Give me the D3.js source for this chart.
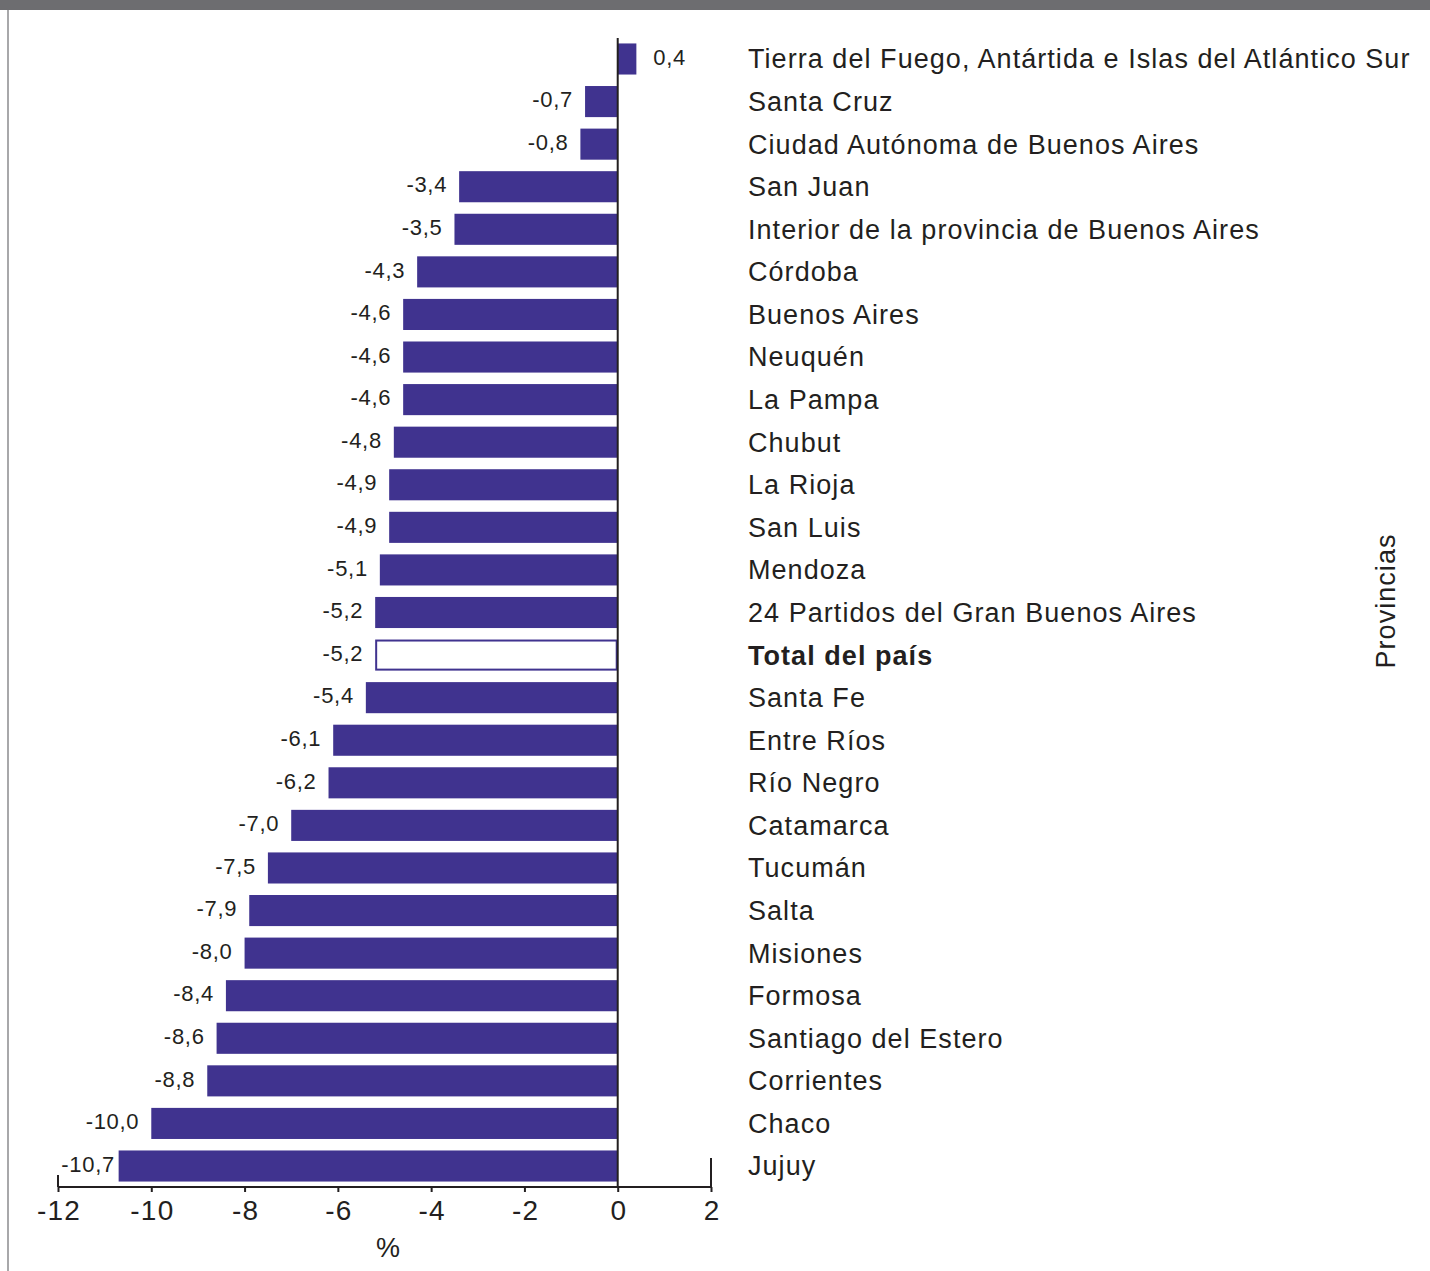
<!DOCTYPE html>
<html><head><meta charset="utf-8">
<script src="https://cdn.jsdelivr.net/npm/d3@7"></script>
<style>
html,body{margin:0;padding:0;background:#fff;}
svg{display:block;}
text{font-family:"Liberation Sans",Arial,sans-serif;fill:#231f20;}
</style></head>
<body>
<svg id="chart" width="1430" height="1271"></svg>
<script>
const categories = [
  "Tierra del Fuego, Antártida e Islas del Atlántico Sur","Santa Cruz","Ciudad Autónoma de Buenos Aires",
  "San Juan","Interior de la provincia de Buenos Aires","Córdoba","Buenos Aires","Neuquén","La Pampa",
  "Chubut","La Rioja","San Luis","Mendoza","24 Partidos del Gran Buenos Aires","Total del país",
  "Santa Fe","Entre Ríos","Río Negro","Catamarca","Tucumán","Salta","Misiones","Formosa",
  "Santiago del Estero","Corrientes","Chaco","Jujuy"
];
const values = [0.4,-0.7,-0.8,-3.4,-3.5,-4.3,-4.6,-4.6,-4.6,-4.8,-4.9,-4.9,-5.1,-5.2,-5.2,-5.4,-6.1,-6.2,-7.0,-7.5,-7.9,-8.0,-8.4,-8.6,-8.8,-10.0,-10.7];
const highlight = ["Total del país"];
const xTicks = [-12,-10,-8,-6,-4,-2,0,2];
const xTitle = "%";
const yTitle = "Provincias";

const data = categories.map((c,i)=>({c, v: values[i]}));
const svg = d3.select("#chart");
const barColor = "#40338f";

// frame
svg.append("rect").attr("x",0).attr("y",0).attr("width",1430).attr("height",10).attr("fill","#6d6d70");
svg.append("line").attr("x1",8).attr("x2",8).attr("y1",10).attr("y2",1271).attr("stroke","#a8a8aa").attr("stroke-width",2);

const x = d3.scaleLinear().domain([-12,2]).range([58,711]);
const y = d3.scaleBand().domain(categories).range([37.7,1187.3]).paddingInner(0.27).paddingOuter(0.135);
const baseY = 1187;

// bars
svg.append("g").selectAll("rect").data(data).join("rect")
  .attr("x", d=>x(Math.min(0,d.v)) + (highlight.includes(d.c)?1:0))
  .attr("y", d=>y(d.c) + (highlight.includes(d.c)?1:0))
  .attr("width", d=>Math.abs(x(d.v)-x(0)) - (highlight.includes(d.c)?2:0))
  .attr("height", d=>y.bandwidth() - (highlight.includes(d.c)?2:0))
  .attr("fill", d=>highlight.includes(d.c)?"#fff":barColor)
  .attr("stroke", d=>highlight.includes(d.c)?barColor:"none")
  .attr("stroke-width",2);

// zero line
svg.append("line").attr("x1",x(0)).attr("x2",x(0)).attr("y1",38).attr("y2",baseY)
  .attr("stroke","#231f20").attr("stroke-width",2);

// value labels
const fmt = v => d3.format(".1f")(v).replace("−","-").replace(".",",");
svg.append("g").selectAll("text").data(data).join("text")
  .attr("x", d=> d.v>=0 ? x(d.v)+17 : Math.max(x(d.v)-12, 115))
  .attr("y", d=>y(d.c)+y.bandwidth()/2 - 2)
  .attr("dy","0.35em")
  .attr("text-anchor", d=>d.v>=0?"start":"end")
  .style("font-size","22px")
  .style("letter-spacing","0.7px")
  .text(d=>fmt(d.v));

// category labels
svg.append("g").selectAll("text").data(data).join("text")
  .attr("x",748)
  .attr("y", d=>y(d.c)+y.bandwidth()/2)
  .attr("dy","0.35em")
  .style("font-size","27px")
  .style("letter-spacing","1.05px")
  .style("font-weight", d=>highlight.includes(d.c)?"bold":"normal")
  .text(d=>d.c);

// x axis
const axis = d3.axisBottom(x).tickValues(xTicks).tickSize(5).tickPadding(8).tickFormat(d=>d3.format("d")(d).replace("−","-"));
const gx = svg.append("g").attr("transform",`translate(0,${baseY})`).call(axis);
gx.select(".domain").attr("d",`M${x(-12)},0H${x(2)}`).attr("stroke","#231f20").attr("stroke-width",2);
gx.selectAll(".tick line").attr("stroke","#231f20").attr("stroke-width",2);
gx.selectAll(".tick text").style("font-size","28px").style("letter-spacing","1.2px")
  .style("font-family","Liberation Sans, Arial, sans-serif").attr("fill","#231f20").attr("dx","0.6px");
gx.append("line").attr("x1",x(-12)).attr("x2",x(-12)).attr("y1",-12).attr("y2",0).attr("stroke","#231f20").attr("stroke-width",2);
gx.append("line").attr("x1",x(2)).attr("x2",x(2)).attr("y1",-29).attr("y2",0).attr("stroke","#231f20").attr("stroke-width",2);

svg.append("text").attr("x",388).attr("y",1248).attr("dy","0.35em").attr("text-anchor","middle")
  .style("font-size","27px").text(xTitle);
svg.append("text").attr("transform","translate(1386,601) rotate(-90)").attr("dy","0.35em").attr("text-anchor","middle")
  .style("font-size","27px").style("letter-spacing","1.05px").text(yTitle);
</script>
</body></html>
